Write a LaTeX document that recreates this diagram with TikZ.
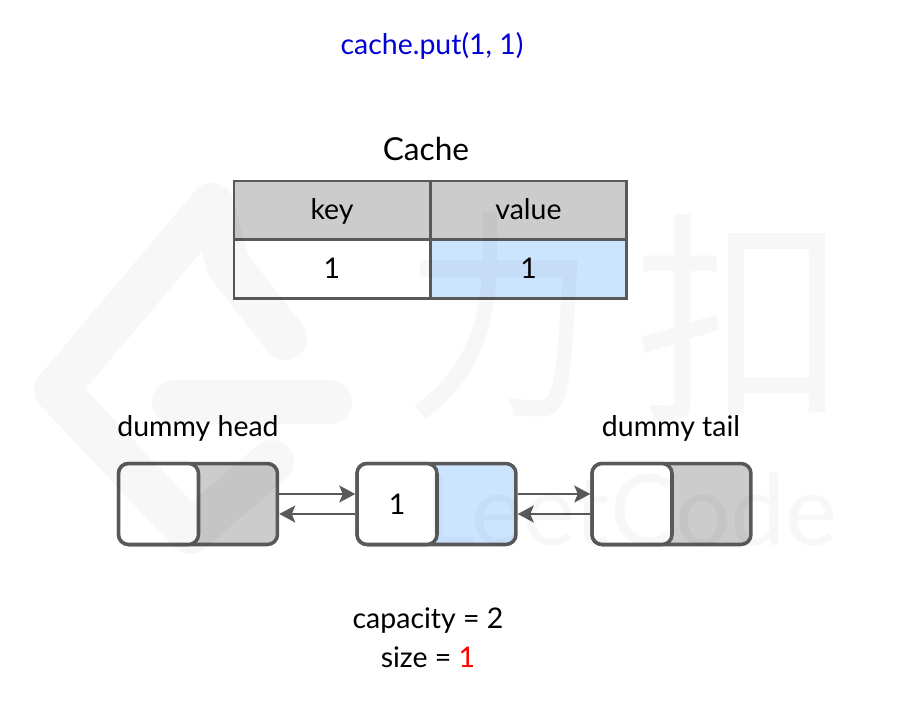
\documentclass[tikz,border=0pt]{standalone}
\usepackage{fontspec}
\setmainfont{Lato}
\newfontfamily\cjkfont{Noto Sans CJK SC}
\usepackage{xcolor}
\usepackage{graphicx}
\usetikzlibrary{arrows.meta}
\definecolor{cellgray}{HTML}{CCCCCC}
\definecolor{cellblue}{HTML}{CCE5FF}
\definecolor{edgegray}{HTML}{595959}
\tikzset{
  tablecell/.style={draw=edgegray,line width=1.2pt,minimum width=3.92cm,minimum height=1.18cm,inner sep=0pt,text height=13.5pt,text depth=3pt,font=\fontsize{16.2}{19}\selectfont},
  listbox/.style={draw=edgegray,line width=2pt,rounded corners=0.2cm,minimum width=3.18cm,minimum height=1.62cm,inner sep=0pt},
  keybox/.style={draw=edgegray,line width=2pt,fill=white,rounded corners=0.2cm,minimum width=1.6cm,minimum height=1.62cm,inner sep=0pt,font=\fontsize{16.2}{19}\selectfont},
  link/.style={-{Stealth[length=0.32cm,width=0.34cm,inset=0.07cm]},edgegray,line width=1pt},
  caption/.style={inner sep=0pt,font=\fontsize{16.2}{19}\selectfont},
  watermark/.style={black,opacity=0.03},
  markstroke/.style={watermark,line width=0.88cm,line cap=round,line join=round},
  markglyph/.style={watermark,text opacity=0.03,inner sep=0pt}
}
\begin{document}
\begin{tikzpicture}[x=0.02cm,y=-0.02cm]
\useasboundingbox (0,0) rectangle (910,706);

% Titles
\node[caption,blue!85!black] (call) at (432,46) {cache.put(1, 1)};
\node[caption,font=\fontsize{18}{22}\selectfont] (title) at (426,149) {Cache};

% Table
\node[tablecell,fill=cellgray] (keyhead) at (332,210.5) {key};
\node[tablecell,fill=cellgray] (valuehead) at (528.5,210.5) {value};
\node[tablecell,fill=white] (keycell) at (332,269) {1};
\node[tablecell,fill=cellblue] (valuecell) at (528.5,269) {1};

% Linked list
\node[caption] (headlabel) at (198,428) {dummy head};
\node[caption] (taillabel) at (671,428) {dummy tail};

\node[listbox,fill=cellgray] (headbox) at (198,504) {};
\node[keybox,anchor=west] (headkey) at (headbox.west) {};
\node[listbox,fill=cellblue] (midbox) at (436.5,504) {};
\node[keybox,anchor=west] (midkey) at (midbox.west) {1};
\node[listbox,fill=cellgray] (tailbox) at (671.5,504) {};
\node[keybox,anchor=west] (tailkey) at (tailbox.west) {};

% Pointers
\draw[link] ([yshift=0.2cm]headbox.east) -- ([yshift=0.2cm]midbox.west);
\draw[link] ([yshift=-0.2cm]midbox.west) -- ([yshift=-0.2cm]headbox.east);
\draw[link] ([yshift=0.2cm]midbox.east) -- ([yshift=0.2cm]tailbox.west);
\draw[link] ([yshift=-0.2cm]tailbox.west) -- ([yshift=-0.2cm]midbox.east);

% Counters
\node[caption] (capacity) at (428,621) {capacity = 2};
\node[caption] (size) at (428,657) {size = \textcolor{red}{1}};

% Watermark
\draw[markstroke]
  (285,338) -- (228,265) -- (212,205) -- (56,390) -- (190,532) -- (272,462);
\draw[markstroke] (174,402) -- (330,402);
\node[markglyph,font=\cjkfont\fontsize{128}{128}\selectfont] (markli) at (500,316) {\scalebox{0.85}[1]{力}};
\node[markglyph,font=\cjkfont\fontsize{128}{128}\selectfont] (markkou) at (741,318) {\scalebox{0.95}[1]{扣}};
\node[markglyph,font=\fontsize{56}{56}\selectfont] (markname) at (631,510) {LeetCode};
\end{tikzpicture}
\end{document}
